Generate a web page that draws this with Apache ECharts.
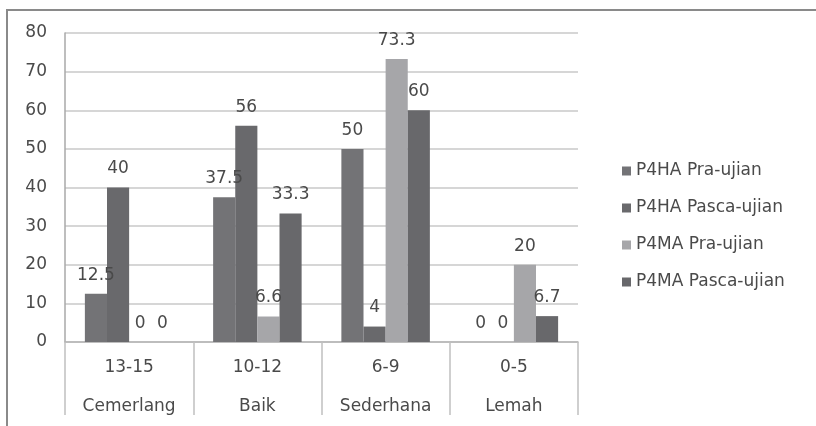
<!DOCTYPE html>
<html><head><meta charset="utf-8">
<script src="https://cdn.jsdelivr.net/npm/echarts@6/dist/echarts.min.js"></script>
<style>html,body{margin:0;padding:0;background:#fff}#c{width:816px;height:426px}</style>
</head><body><div id="c"></div>
<script>
var categories = ['13-15\nCemerlang', '10-12\nBaik', '6-9\nSederhana', '0-5\nLemah'];
var seriesNames = ['P4HA Pra-ujian', 'P4HA Pasca-ujian', 'P4MA Pra-ujian', 'P4MA Pasca-ujian'];
var p4haPra = [12.5, 37.5, 50, 0];
var p4haPasca = [40, 56, 4, 0];
var p4maPra = [0, 6.6, 73.3, 20];
var p4maPasca = [0, 33.3, 60, 6.7];
var yTicks = [0, 10, 20, 30, 40, 50, 60, 70, 80];
var colors = ['#737376', '#69696c', '#a6a6a9', '#68686b'];
var values = [p4haPra, p4haPasca, p4maPra, p4maPasca];
var font = 'DejaVu Sans';
var txt = '#4a4a4a';
var chart = echarts.init(document.getElementById('c'));
chart.setOption({
  animation: false,
  textStyle: {fontFamily: font},
  graphic: [{type: 'rect', shape: {x: 7, y: 10, width: 1000, height: 600},
    style: {fill: 'none', stroke: '#8a8a8a', lineWidth: 2}, silent: true}],
  grid: {left: 65, right: 238, top: 33, bottom: 79},
  legend: {
    orient: 'vertical', left: 617, top: 156, itemWidth: 9, itemHeight: 9, itemGap: 17,
    icon: 'rect', data: seriesNames,
    textStyle: {fontFamily: font, fontSize: 17, color: txt, lineHeight: 20}
  },
  xAxis: {
    type: 'category', data: categories,
    axisLine: {lineStyle: {color: '#b5b5b5', width: 1.5}},
    axisTick: {show: true, interval: 0, length: 73, lineStyle: {color: '#c0c0c0', width: 1.5}},
    axisLabel: {interval: 0, margin: 6, lineHeight: 39, fontSize: 17, color: txt, fontFamily: font}
  },
  yAxis: {
    type: 'value', min: yTicks[0], max: yTicks[yTicks.length - 1], interval: 10,
    axisLine: {show: true, lineStyle: {color: '#a8a8a8', width: 1.5}},
    axisTick: {show: false},
    axisLabel: {fontSize: 17, color: txt, margin: 18, fontFamily: font},
    splitLine: {lineStyle: {color: '#d6d6d6', width: 2}}
  },
  series: seriesNames.map(function (n, i) {
    return {
      name: n, type: 'bar', data: values[i], barGap: '0%', barCategoryGap: '31%',
      itemStyle: {color: colors[i]},
      label: {show: true, position: 'top', distance: 10, fontSize: 17, color: txt, fontFamily: font}
    };
  })
});
</script></body></html>
